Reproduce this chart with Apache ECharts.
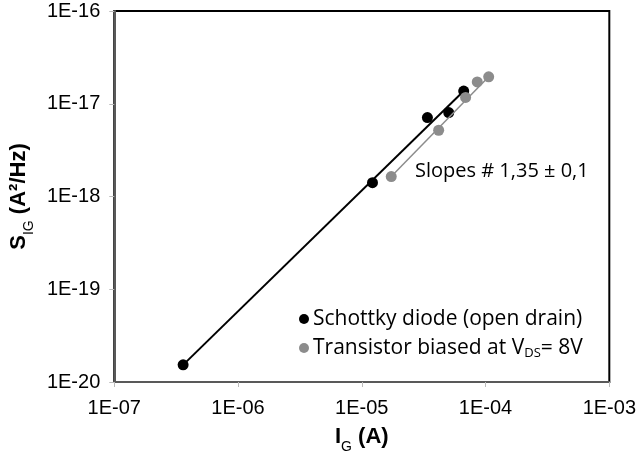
<!DOCTYPE html>
<html>
<head>
<meta charset="utf-8">
<script src="https://cdn.jsdelivr.net/npm/echarts@6/dist/echarts.min.js"></script>
<style>
html,body{margin:0;padding:0;background:#fff;}
#chart{width:639px;height:462px;}
</style>
</head>
<body>
<div id="chart"></div>
<script>
// Data (log-log)
const schottkyX = [3.6e-7, 1.22e-5, 3.39e-5, 5.04e-5, 6.66e-5];
const schottkyY = [1.53e-20, 1.41e-18, 7.1e-18, 8.04e-18, 1.37e-17];
const transistorX = [1.73e-5, 4.18e-5, 6.9e-5, 8.57e-5, 1.06e-4];
const transistorY = [1.64e-18, 5.18e-18, 1.17e-17, 1.72e-17, 1.95e-17];
// fit lines (endpoints of trend lines)
const schottkyFitX = [3.6e-7, 6.66e-5];
const schottkyFitY = [1.53e-20, 1.37e-17];
const transistorFitX = [1.73e-5, 1.06e-4];
const transistorFitY = [1.64e-18, 1.95e-17];
const seriesNames = ['Schottky diode (open drain)', 'Transistor biased at VDS= 8V'];
const annotation = 'Slopes # 1,35 \u00B1 0,1';

const zip = (xs, ys) => xs.map((x, i) => [x, ys[i]]);
const fmtE = v => {
  const e = Math.round(Math.log10(v));
  return '1E' + (e < 0 ? '-' : '+') + String(Math.abs(e)).padStart(2, '0');
};

const chart = echarts.init(document.getElementById('chart'));
const labelFont = 'Liberation Sans';
const textFont = 'Open Sans';
chart.setOption({
  animation: false,
  backgroundColor: '#fff',
  grid: {left: 114, top: 11, right: 28, bottom: 80, show: true, borderColor: '#000', borderWidth: 2},
  xAxis: {
    type: 'log', logBase: 10, min: 1e-7, max: 1e-3,
    name: '{b|I}{s|G}{b| (A)}', nameLocation: 'middle', nameGap: 38,
    nameTextStyle: {
      rich: {
        b: {fontFamily: labelFont, fontWeight: 'bold', fontSize: 22, color: '#000', verticalAlign: 'bottom', lineHeight: 28},
        s: {fontFamily: labelFont, fontSize: 14, color: '#000', verticalAlign: 'bottom', lineHeight: 20, padding: [0, 0, -6, 0]}
      }
    },
    axisLine: {show: true, lineStyle: {color: '#595959', width: 2}},
    axisTick: {show: true, length: 5, lineStyle: {color: '#bbb'}},
    axisLabel: {formatter: fmtE, fontFamily: labelFont, fontSize: 20, color: '#000', margin: 16},
    splitLine: {show: false}, minorSplitLine: {show: false}
  },
  yAxis: {
    type: 'log', logBase: 10, min: 1e-20, max: 1e-16,
    name: '{b|S}{s|IG}{b| (A\u00B2/Hz)}', nameLocation: 'middle', nameGap: 80, nameRotate: 90,
    nameTextStyle: {
      rich: {
        b: {fontFamily: labelFont, fontWeight: 'bold', fontSize: 22, color: '#000', verticalAlign: 'bottom', lineHeight: 28},
        s: {fontFamily: labelFont, fontSize: 14, color: '#000', verticalAlign: 'bottom', lineHeight: 20, padding: [0, 0, -6, 0]}
      }
    },
    axisLine: {show: true, lineStyle: {color: '#595959', width: 2}},
    axisTick: {show: true, length: 5, lineStyle: {color: '#bbb'}},
    axisLabel: {formatter: fmtE, fontFamily: labelFont, fontSize: 20, color: '#000', margin: 14},
    splitLine: {show: false}
  },
  legend: {
    orient: 'vertical', left: 294, top: 302, itemGap: 5,
    icon: 'circle', itemWidth: 10, itemHeight: 10,
    data: seriesNames,
    formatter: n => n === seriesNames[1] ? 'Transistor biased at V{s|DS}= 8V' : n,
    textStyle: {
      fontFamily: textFont, fontSize: 21, lineHeight: 24, color: '#000', padding: [0, 0, 0, -1],
      rich: {s: {fontFamily: textFont, fontSize: 13, lineHeight: 24, color: '#000', verticalAlign: 'bottom', padding: [9, 0, 0, 0]}}
    }
  },
  graphic: [{
    type: 'text', left: 415, top: 161,
    style: {text: annotation, font: '20px "Open Sans"', fill: '#000'}
  }],
  series: [
    {type: 'line', data: zip(schottkyFitX, schottkyFitY), symbol: 'none', lineStyle: {color: '#000', width: 2}, z: 2, silent: true},
    {name: seriesNames[0], type: 'scatter', data: zip(schottkyX, schottkyY), symbolSize: 11, itemStyle: {color: '#000', opacity: 1}, z: 3},
    {type: 'line', data: zip(transistorFitX, transistorFitY), symbol: 'none', lineStyle: {color: '#8c8c8c', width: 1.5}, z: 4, silent: true},
    {name: seriesNames[1], type: 'scatter', data: zip(transistorX, transistorY), symbolSize: 11, itemStyle: {color: '#8c8c8c', opacity: 1}, z: 5}
  ]
});
</script>
</body>
</html>
